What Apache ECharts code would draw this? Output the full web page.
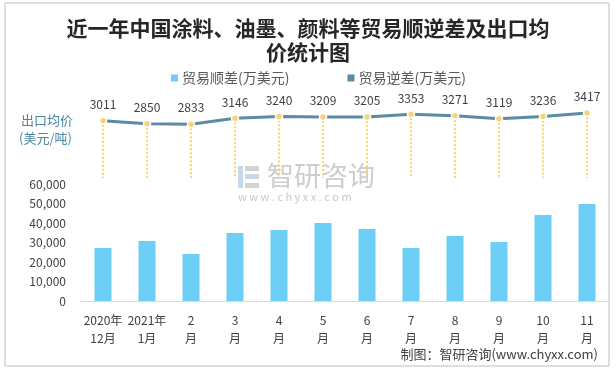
<!DOCTYPE html>
<html>
<head>
<meta charset="utf-8">
<script src="https://cdn.jsdelivr.net/npm/echarts@6/dist/echarts.min.js"></script>
<style>
html,body{margin:0;padding:0;background:#fff;}
#chart{width:616px;height:370px;}
</style>
</head>
<body>
<div id="chart"></div>
<script>
var categories = ['2020年\n12月','2021年\n1月','2\n月','3\n月','4\n月','5\n月','6\n月','7\n月','8\n月','9\n月','10\n月','11\n月'];
var surplus = [27200, 30800, 24100, 34900, 36400, 40000, 36900, 27200, 33300, 30300, 44100, 49700];
var deficit = ['-','-','-','-','-','-','-','-','-','-','-','-'];
var exportPrice = [3011, 2850, 2833, 3146, 3240, 3209, 3205, 3353, 3271, 3119, 3236, 3417];
var yTicks = [0, 10000, 20000, 30000, 40000, 50000, 60000];

var FONT = '"Noto Sans CJK SC","Microsoft YaHei",sans-serif';
var chart = echarts.init(document.getElementById('chart'), null, {renderer:'canvas'});

function fmt(v){ return String(v).replace(/\B(?=(\d{3})+(?!\d))/g, ','); }

var option = {
  animation: false,
  backgroundColor: '#ffffff',
  textStyle: {fontFamily: FONT},
  title: {
    text: '近一年中国涂料、油墨、颜料等贸易顺逆差及出口均\n价统计图',
    left: 'center',
    top: 11,
    textStyle: {fontSize: 21, fontWeight: 'bold', color: '#262626', lineHeight: 24, fontFamily: FONT}
  },
  legend: {
    left: 166,
    top: 66,
    itemWidth: 7,
    itemHeight: 7,
    itemGap: 58,
    icon: 'rect',
    textStyle: {fontSize: 14, color: '#595959', fontFamily: FONT, padding: [0,0,0,-1]},
    data: ['贸易顺差(万美元)', '贸易逆差(万美元)']
  },
  grid: [
    {left: 81, right: 7, top: 184, bottom: 69},
    {left: 81, right: 7, top: 64, bottom: 192}
  ],
  xAxis: [
    {
      type: 'category', gridIndex: 0, data: categories,
      axisLine: {lineStyle: {color: '#d9d9d9', width: 1}},
      axisTick: {show: false},
      axisLabel: {color: '#404040', fontSize: 12, lineHeight: 18, margin: 10, interval: 0, fontFamily: FONT}
    },
    {
      type: 'category', gridIndex: 1, data: categories, show: false
    }
  ],
  yAxis: [
    {
      type: 'value', gridIndex: 0, min: yTicks[0], max: yTicks[yTicks.length-1], interval: 10000,
      splitLine: {show: false},
      axisLine: {show: false}, axisTick: {show: false},
      axisLabel: {color: '#404040', fontSize: 12, margin: 15, formatter: function(v){return fmt(v);}, fontFamily: FONT}
    },
    {
      type: 'value', gridIndex: 1, min: 0, max: 6000, show: false
    }
  ],
  series: [
    {
      name: '贸易顺差(万美元)', type: 'bar', xAxisIndex: 0, yAxisIndex: 0,
      data: surplus, barWidth: 17, barGap: '-100%',
      itemStyle: {color: '#6dcff6'}
    },
    {
      name: '贸易逆差(万美元)', type: 'bar', xAxisIndex: 0, yAxisIndex: 0,
      data: deficit, barWidth: 17, barGap: '-100%',
      itemStyle: {color: '#5b8ca3'}
    },
    {
      name: 'drop', type: 'custom', xAxisIndex: 1, yAxisIndex: 1, z: 1,
      data: exportPrice.map(function(v, i){ return [i, v]; }),
      renderItem: function(params, api){
        var p1 = api.coord([api.value(0), api.value(1)]);
        var p0 = api.coord([api.value(0), 0]);
        return {
          type: 'line',
          shape: {x1: p1[0], y1: p1[1], x2: p0[0], y2: p0[1]},
          style: {stroke: '#f9d273', lineWidth: 2, lineDash: [2, 2]}
        };
      },
      silent: true
    },
    {
      name: '出口均价', type: 'line', xAxisIndex: 1, yAxisIndex: 1, z: 3,
      data: exportPrice,
      lineStyle: {color: '#5b8ca3', width: 3},
      symbol: 'circle', symbolSize: 7,
      itemStyle: {color: '#f9d273', borderColor: '#ffffff', borderWidth: 1.5},
      label: {show: true, position: 'top', distance: 6, color: '#404040', fontSize: 12, fontFamily: FONT}
    }
  ],
  graphic: [
    {type: 'rect', shape: {x: 5, y: 3, width: 604, height: 363}, style: {fill: 'none', stroke: '#bfbfbf', lineWidth: 1}, z: 0, silent: true},
    {type: 'text', left: 21, top: 114, style: {text: '出口均价', fontSize: 13, fill: '#4a86a0', fontFamily: FONT}},
    {type: 'text', left: 19, top: 132, style: {text: '(美元/吨)', fontSize: 13, fill: '#4a86a0', fontFamily: FONT}},
    {type: 'rect', shape: {x: 238, y: 166, width: 5, height: 22}, style: {fill: '#c5d9ea'}, z: 0},
    {type: 'rect', shape: {x: 245, y: 166, width: 14, height: 5}, style: {fill: '#d3d3d3'}, z: 0},
    {type: 'rect', shape: {x: 245, y: 174, width: 14, height: 5}, style: {fill: '#c5d9ea'}, z: 0},
    {type: 'rect', shape: {x: 245, y: 183, width: 14, height: 5}, style: {fill: '#d3d3d3'}, z: 0},
    {type: 'text', left: 267, top: 162, style: {text: '智研咨询', fontSize: 27, fill: '#cdcdcd', fontFamily: FONT}, z: 0},
    {type: 'text', left: 238, top: 191, style: {text: 'w w w . c h y x x . c o m', fontSize: 11, fill: '#c8c8c8', fontFamily: FONT}, z: 0},
    {type: 'text', right: 18, top: 348, style: {text: '制图：智研咨询(www.chyxx.com)', fontSize: 13, fill: '#404040', fontFamily: FONT}}
  ]
};
chart.setOption(option);
</script>
</body>
</html>
